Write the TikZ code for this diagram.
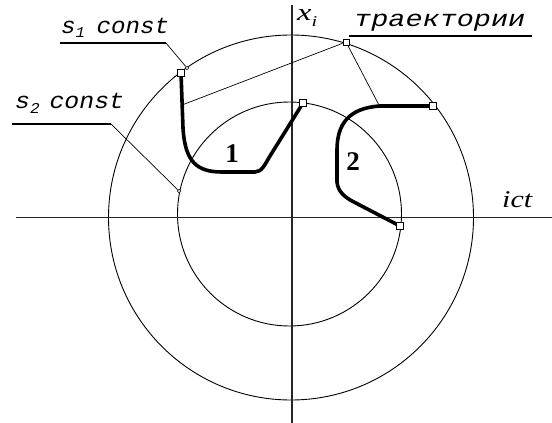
\documentclass[tikz,border=0pt]{standalone}
\usepackage{fontspec}
\setmainfont{Liberation Serif}
\newfontfamily\monofam{Liberation Mono}
\begin{document}
\begin{tikzpicture}[x=1pt,y=-1pt,
  sq/.style={draw,fill=white,line width=0.8pt,minimum size=7pt,inner sep=0pt},
  dotc/.style={draw,fill=white,circle,line width=0.6pt,minimum size=3.5pt,inner sep=0pt},
  thinl/.style={line width=0.7pt},
  circl/.style={line width=0.9pt},
  axis/.style={line width=1.4pt,black!85},
  traj/.style={line width=3.6pt,line join=round},
  uline/.style={line width=2.6pt},
  mono/.style={font=\monofam\itshape\fontsize{23}{23}\selectfont,inner sep=0pt},
  seri/.style={font=\itshape\fontsize{24}{24}\selectfont,inner sep=0pt},
  num/.style={font=\bfseries\fontsize{27}{27}\selectfont,inner sep=0pt}]
\useasboundingbox (0,0) rectangle (552,423);
% circles
\draw[circl] (291,217.5) circle[radius=182.5pt];
\draw[circl] (289.5,214) circle[radius=112pt];
% axes
\coordinate (hL) at (16,217.7);
\coordinate (hR) at (552,217.7);
\coordinate (vT) at (292,5);
\coordinate (vB) at (292,423);
\draw[axis] (hL) -- (hR);
\draw[axis] (vT) -- (vB);
% axis labels
\node[seri,anchor=base west] (xlab) at (297,20) {\scalebox{1.35}[1]{x\raisebox{-6pt}{\fontsize{15}{15}\selectfont\itshape i}}};
\node[seri,anchor=base west] (ictlab) at (502,207) {\scalebox{1.25}[1]{ict}};
% leader points
\node[dotc] (c1) at (187,68) {};
\node[dotc] (c2) at (179,191) {};
\coordinate (p1) at (182,105);
\coordinate (p2) at (380,107);
% underlines
\coordinate (u1L) at (60,43);
\coordinate (u1R) at (166,43);
\coordinate (u2L) at (12,124);
\coordinate (u2R) at (111,124);
\coordinate (u3L) at (349,36);
\coordinate (u3R) at (532,36);
\draw[uline] (u1L) -- (u1R);
\draw[uline] (u2L) -- (u2R);
\draw[uline] (u3L) -- (u3R);
\draw[thinl] (u1R) -- (c1);
\draw[thinl] (u2R) -- (c2);
\node[sq,minimum size=6pt] (T) at (346,42) {};
\draw[thinl] (T) -- (p1);
\draw[thinl] (T) -- (p2);
% labels
\node[mono,anchor=base west] (s1lab) at (61,33) {\scalebox{1.05}[1]{s\raisebox{-5pt}{\fontsize{15}{15}\selectfont 1}\hspace{11pt}const}};
\node[mono,anchor=base west] (s2lab) at (15,108) {\scalebox{1.08}[1]{s\raisebox{-5pt}{\fontsize{15}{15}\selectfont 2}\hspace{9pt}const}};
\node[mono,anchor=base west] (trlab) at (354,26) {\scalebox{1.24}[1]{траектории}};
% squares
\coordinate (S1) at (181,73);
\coordinate (A) at (303,103);
\coordinate (B) at (433,106);
\coordinate (C) at (400,226);
% trajectory 1
\draw[traj] (S1) -- (183,128) .. controls (185,162) and (197,172) .. (222,172)
   -- (255,172) .. controls (262,172) and (265,164) .. (270,156) -- (A);
% trajectory 2
\draw[traj] (B) -- (380,106) .. controls (348,108) and (337,125) .. (337,150)
   -- (337,182) .. controls (338,192) and (345,197) .. (352,201) -- (C);
\node[sq] (S1n) at (S1) {};
\node[sq] (An) at (A) {};
\node[sq] (Bn) at (B) {};
\node[sq] (Cn) at (C) {};
% numbers
\node[num] (n1) at (232,154) {1};
\node[num] (n2) at (353,162) {2};
\end{tikzpicture}
\end{document}
